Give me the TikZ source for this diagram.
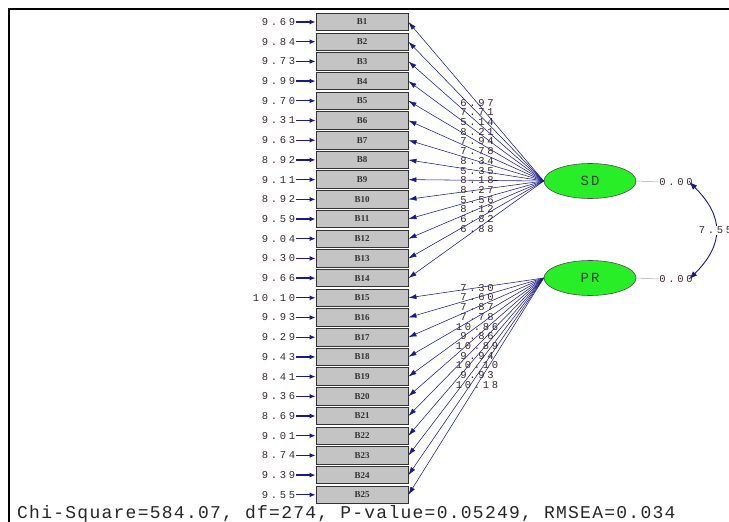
\documentclass[tikz,border=0pt]{standalone}
\usepackage{fontspec}
\setmainfont{Liberation Serif}
\newfontfamily\numfont[LetterSpace=26]{Liberation Mono}
\newfontfamily\fitfont[LetterSpace=7]{Liberation Mono}
\newfontfamily\latfont[LetterSpace=15]{Liberation Mono}
\usetikzlibrary{arrows.meta,shapes.geometric}
\definecolor{navyarr}{RGB}{25,25,140}
\definecolor{numcol}{RGB}{55,40,45}
\definecolor{boxfill}{RGB}{196,196,196}
\definecolor{latfill}{RGB}{40,238,40}
\tikzset{
  obs/.style={draw=black!80, fill=boxfill, line width=0.9pt, minimum width=92pt, minimum height=17.5pt, inner sep=0pt,
    font=\bfseries\fontsize{9}{10}\selectfont, text=black!80},
  errlab/.style={inner sep=0.5pt, font=\numfont\fontsize{10.5}{10}\selectfont, text=numcol},
  lab/.style={inner sep=0.5pt, font=\numfont\fontsize{10.5}{10}\selectfont, text=numcol},
  errarrow/.style={draw=navyarr, line width=1.3pt, -{Latex[length=6pt,width=5pt]}},
  load/.style={draw=navyarr, line width=0.55pt, -{Latex[length=8pt,width=5pt]}},
  latent/.style={ellipse, draw=black!70, fill=latfill, line width=0.6pt, minimum width=92pt, minimum height=35pt, inner sep=0pt,
    font=\latfont\fontsize{14}{15}\selectfont, text=black!75},
  cov/.style={draw=navyarr, line width=0.9pt, {Latex[length=8pt,width=6pt]}-{Latex[length=8pt,width=6pt]}},
}
\begin{document}
\begin{tikzpicture}[x=1pt,y=-1pt]
\useasboundingbox (0,0) rectangle (729,522);
% frame
\draw[line width=2pt] (9,522) -- (9,9) -- (729,9);
% observed variables
\foreach \i in {1,...,25} {
  \node[obs] (b\i) at (362,{22+(\i-1)*19.7}) {B\i};
}
% error variances
\foreach \v [count=\i] in {9.69,9.84,9.73,9.99,9.70,9.31,9.63,8.92,9.11,8.92,9.59,9.04,9.30,9.66,10.10,9.93,9.29,9.43,8.41,9.36,8.69,9.01,8.74,9.39,9.55} {
  \node[errlab, anchor=east] (e\i) at (296,{22+(\i-1)*19.7}) {\v};
  \draw[errarrow] (e\i) -- (b\i);
}
% latent variables
\node[latent] (sd) at (590,181) {SD};
\node[latent] (pr) at (590,278) {PR};
% loadings
\foreach \v [count=\i] in {6.97,7.71,5.14,8.21,7.94,7.78,8.34,5.35,8.18,8.27,5.56,8.12,6.82,6.88} {
  \draw[load] (sd.west) -- node[lab, pos=0.493] (l\i) {\v} (b\i.east);
}
\foreach \v [count=\i from 15] in {7.30,7.60,7.87,7.78,10.86,9.86,10.89,9.94,10.10,9.93,10.18} {
  \draw[load] (pr.west) -- node[lab, pos=0.493] (l\i) {\v} (b\i.east);
}
% latent variances
\node[lab] (vsd) at (676,182) {0.00};
\node[lab] (vpr) at (676,279) {0.00};
\draw[gray!70, line width=0.5pt] (sd.east) -- (vsd.west);
\draw[gray!70, line width=0.5pt] (pr.east) -- (vpr.west);
% covariance
\draw[cov] ([xshift=-4pt]vsd.east) to[out=-45,in=45,looseness=1.3] node[lab, fill=white, pos=0.5] (cv) {7.55} ([xshift=-4pt]vpr.east);
% fit statistics
\node[anchor=west, inner sep=0pt, font=\fitfont\fontsize{18}{20}\selectfont, text=black!85] (fitstat) at (17,514) {Chi-Square=584.07, df=274, P-value=0.05249, RMSEA=0.034};
\end{tikzpicture}
\end{document}
